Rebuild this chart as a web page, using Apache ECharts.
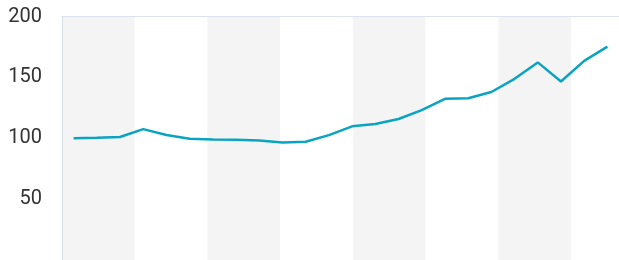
<!DOCTYPE html>
<html>
<head>
<meta charset="utf-8">
<script src="https://cdn.jsdelivr.net/npm/echarts@6/dist/echarts.min.js"></script>
<style>
  html, body { margin: 0; padding: 0; background: #fff; }
  #chart { width: 619px; height: 260px; }
</style>
</head>
<body>
<div id="chart"></div>
<script>
// 24 periods on the line
var periods = [];
for (var i = 1; i <= 24; i++) periods.push('P' + i);

var values = [100.1, 100.4, 101.0, 107.5, 102.6, 99.6, 98.9, 98.7, 98.1, 96.6, 97.1, 102.6,
              109.8, 111.7, 115.8, 123.1, 132.4, 132.8, 138.0, 148.8, 162.3, 146.6, 163.6, 175.3];

var yTicks = [0, 50, 100, 150, 200];

var myChart = echarts.init(document.getElementById('chart'));
option = {
    animation: false,
    grid: {
        left: 62,
        top: 16.5,
        width: 559,
        height: 246
    },
    xAxis: [
        {
            type: 'category',
            data: periods,
            boundaryGap: true,
            axisLine: { show: false },
            axisTick: { show: false },
            axisLabel: { show: false },
            splitLine: { show: false }
        },
        {
            // background bands
            type: 'value',
            position: 'top',
            min: 0,
            max: 7.658,
            interval: 1,
            axisLine: { show: true, lineStyle: { color: '#dbe3ee', width: 1 } },
            axisTick: { show: false },
            axisLabel: { show: false },
            splitLine: { show: false },
            splitArea: {
                show: true,
                areaStyle: { color: ['#f4f4f4', '#ffffff'] }
            }
        }
    ],
    yAxis: {
        type: 'value',
        min: yTicks[0],
        max: yTicks[yTicks.length - 1],
        interval: 50,
        axisLine: { show: true, lineStyle: { color: '#d9dfe6', width: 1 } },
        axisTick: { show: false },
        splitLine: { show: false },
        axisLabel: {
            margin: 20,
            color: '#333',
            fontFamily: 'Roboto',
            fontSize: 20,
            formatter: function (v) { return v === 0 ? '' : v; }
        }
    },
    series: [
        {
            type: 'line',
            xAxisIndex: 0,
            data: values,
            symbol: 'none',
            smooth: false,
            lineStyle: { color: '#0aa3c2', width: 2.5 },
            z: 5
        }
    ]
};
myChart.setOption(option, true);
</script>
</body>
</html>
